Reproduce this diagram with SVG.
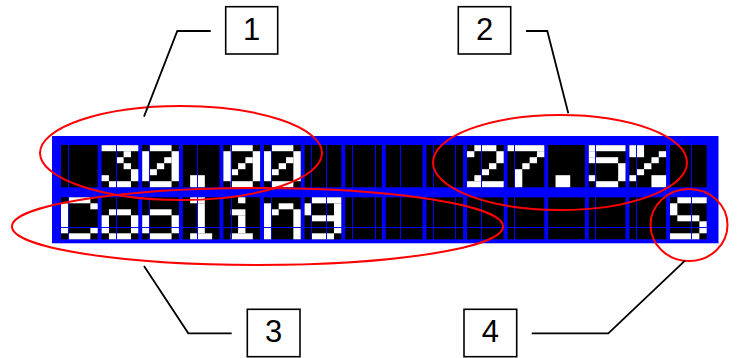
<svg xmlns="http://www.w3.org/2000/svg" xmlns:xlink="http://www.w3.org/1999/xlink" width="738" height="358" viewBox="0 0 738 358">
<style>
.lcd{fill:#0000ff}
.cell{fill:#000000}
.px{fill:#ffffff}
.grid{stroke:#0000ff;stroke-width:1;fill:none}
.ring{fill:none;stroke:#ff0000;stroke-width:2}
.box{fill:#ffffff;stroke:#000000;stroke-width:1.6}
.num{font-family:"Liberation Sans",Arial,sans-serif;font-size:31px;fill:#000000;text-anchor:middle}
.lead{fill:none;stroke:#000000;stroke-width:1.8}
</style>
<defs>
<g id="c3" class="px"><rect x="0" y="0" width="5" height="1"/><rect x="3" y="1" width="1" height="1"/><rect x="2" y="2" width="1" height="1"/><rect x="3" y="3" width="1" height="1"/><rect x="4" y="4" width="1" height="2"/><rect x="0" y="5" width="1" height="1"/><rect x="1" y="6" width="3" height="1"/></g>
<g id="c0" class="px"><rect x="1" y="0" width="3" height="1"/><rect x="0" y="1" width="1" height="5"/><rect x="4" y="1" width="1" height="5"/><rect x="3" y="2" width="1" height="1"/><rect x="2" y="3" width="1" height="1"/><rect x="1" y="4" width="1" height="1"/><rect x="1" y="6" width="3" height="1"/></g>
<g id="cdot" class="px"><rect x="1" y="5" width="2" height="2"/></g>
<g id="c2" class="px"><rect x="1" y="0" width="3" height="1"/><rect x="0" y="1" width="1" height="1"/><rect x="4" y="1" width="1" height="2"/><rect x="3" y="3" width="1" height="1"/><rect x="2" y="4" width="1" height="1"/><rect x="1" y="5" width="1" height="1"/><rect x="0" y="6" width="5" height="1"/></g>
<g id="c7" class="px"><rect x="0" y="0" width="5" height="1"/><rect x="4" y="1" width="1" height="1"/><rect x="3" y="2" width="1" height="1"/><rect x="2" y="3" width="1" height="1"/><rect x="1" y="4" width="1" height="3"/></g>
<g id="c5" class="px"><rect x="0" y="0" width="5" height="1"/><rect x="0" y="1" width="1" height="1"/><rect x="0" y="2" width="4" height="1"/><rect x="4" y="3" width="1" height="3"/><rect x="0" y="5" width="1" height="1"/><rect x="1" y="6" width="3" height="1"/></g>
<g id="cpct" class="px"><rect x="0" y="0" width="2" height="2"/><rect x="4" y="1" width="1" height="1"/><rect x="3" y="2" width="1" height="1"/><rect x="2" y="3" width="1" height="1"/><rect x="1" y="4" width="1" height="1"/><rect x="0" y="5" width="1" height="1"/><rect x="3" y="5" width="2" height="2"/></g>
<g id="cC" class="px"><rect x="1" y="0" width="3" height="1"/><rect x="0" y="1" width="1" height="5"/><rect x="4" y="1" width="1" height="1"/><rect x="4" y="5" width="1" height="1"/><rect x="1" y="6" width="3" height="1"/></g>
<g id="co" class="px"><rect x="1" y="2" width="3" height="1"/><rect x="0" y="3" width="1" height="3"/><rect x="4" y="3" width="1" height="3"/><rect x="1" y="6" width="3" height="1"/></g>
<g id="cl" class="px"><rect x="1" y="0" width="2" height="1"/><rect x="2" y="1" width="1" height="5"/><rect x="1" y="6" width="3" height="1"/></g>
<g id="ci" class="px"><rect x="2" y="0" width="1" height="1"/><rect x="1" y="2" width="2" height="1"/><rect x="2" y="3" width="1" height="3"/><rect x="1" y="6" width="3" height="1"/></g>
<g id="cn" class="px"><rect x="0" y="1" width="1" height="6"/><rect x="2" y="1" width="2" height="1"/><rect x="1" y="2" width="1" height="1"/><rect x="4" y="2" width="1" height="5"/></g>
<g id="cg" class="px"><rect x="1" y="0" width="4" height="1"/><rect x="0" y="1" width="1" height="2"/><rect x="4" y="1" width="1" height="5"/><rect x="1" y="3" width="3" height="1"/><rect x="1" y="6" width="3" height="1"/></g>
<g id="cS" class="px"><rect x="1" y="0" width="4" height="1"/><rect x="0" y="1" width="1" height="2"/><rect x="1" y="3" width="3" height="1"/><rect x="4" y="4" width="1" height="2"/><rect x="0" y="6" width="4" height="1"/></g>
</defs>

<g id="lcd">
<rect class="lcd" x="52" y="136" width="666.5" height="107.3"/>
<g id="cells-row1">
<rect class="cell" x="61" y="145" width="36.7" height="42.3"/>
<rect class="cell" x="101.6" y="145" width="36.7" height="42.3"/>
<rect class="cell" x="142.2" y="145" width="36.7" height="42.3"/>
<rect class="cell" x="182.8" y="145" width="36.7" height="42.3"/>
<rect class="cell" x="223.4" y="145" width="36.7" height="42.3"/>
<rect class="cell" x="264" y="145" width="36.7" height="42.3"/>
<rect class="cell" x="304.6" y="145" width="36.7" height="42.3"/>
<rect class="cell" x="345.2" y="145" width="36.7" height="42.3"/>
<rect class="cell" x="385.8" y="145" width="36.7" height="42.3"/>
<rect class="cell" x="426.4" y="145" width="36.7" height="42.3"/>
<rect class="cell" x="467" y="145" width="36.7" height="42.3"/>
<rect class="cell" x="507.6" y="145" width="36.7" height="42.3"/>
<rect class="cell" x="548.2" y="145" width="36.7" height="42.3"/>
<rect class="cell" x="588.8" y="145" width="36.7" height="42.3"/>
<rect class="cell" x="629.4" y="145" width="36.7" height="42.3"/>
<rect class="cell" x="670" y="145" width="36.7" height="42.3"/>
</g>
<g id="cells-row2">
<rect class="cell" x="61" y="197.3" width="36.7" height="42"/>
<rect class="cell" x="101.6" y="197.3" width="36.7" height="42"/>
<rect class="cell" x="142.2" y="197.3" width="36.7" height="42"/>
<rect class="cell" x="182.8" y="197.3" width="36.7" height="42"/>
<rect class="cell" x="223.4" y="197.3" width="36.7" height="42"/>
<rect class="cell" x="264" y="197.3" width="36.7" height="42"/>
<rect class="cell" x="304.6" y="197.3" width="36.7" height="42"/>
<rect class="cell" x="345.2" y="197.3" width="36.7" height="42"/>
<rect class="cell" x="385.8" y="197.3" width="36.7" height="42"/>
<rect class="cell" x="426.4" y="197.3" width="36.7" height="42"/>
<rect class="cell" x="467" y="197.3" width="36.7" height="42"/>
<rect class="cell" x="507.6" y="197.3" width="36.7" height="42"/>
<rect class="cell" x="548.2" y="197.3" width="36.7" height="42"/>
<rect class="cell" x="588.8" y="197.3" width="36.7" height="42"/>
<rect class="cell" x="629.4" y="197.3" width="36.7" height="42"/>
<rect class="cell" x="670" y="197.3" width="36.7" height="42"/>
</g>
<g id="text-row1" aria-label=" 30.00    27.5% ">
<use xlink:href="#c3" transform="translate(101.6,145.2) scale(7.34,6)"/>
<use xlink:href="#c0" transform="translate(142.2,145.2) scale(7.34,6)"/>
<use xlink:href="#cdot" transform="translate(182.8,145.2) scale(7.34,6)"/>
<use xlink:href="#c0" transform="translate(223.4,145.2) scale(7.34,6)"/>
<use xlink:href="#c0" transform="translate(264,145.2) scale(7.34,6)"/>
<use xlink:href="#c2" transform="translate(467,145.2) scale(7.34,6)"/>
<use xlink:href="#c7" transform="translate(507.6,145.2) scale(7.34,6)"/>
<use xlink:href="#cdot" transform="translate(548.2,145.2) scale(7.34,6)"/>
<use xlink:href="#c5" transform="translate(588.8,145.2) scale(7.34,6)"/>
<use xlink:href="#cpct" transform="translate(629.4,145.2) scale(7.34,6)"/>
</g>
<g id="text-row2" aria-label="Cooling        S">
<use xlink:href="#cC" transform="translate(61,197.3) scale(7.34,6)"/>
<use xlink:href="#co" transform="translate(101.6,197.3) scale(7.34,6)"/>
<use xlink:href="#co" transform="translate(142.2,197.3) scale(7.34,6)"/>
<use xlink:href="#cl" transform="translate(182.8,197.3) scale(7.34,6)"/>
<use xlink:href="#ci" transform="translate(223.4,197.3) scale(7.34,6)"/>
<use xlink:href="#cn" transform="translate(264,197.3) scale(7.34,6)"/>
<use xlink:href="#cg" transform="translate(304.6,197.3) scale(7.34,6)"/>
<use xlink:href="#cS" transform="translate(670,197.3) scale(7.34,6)"/>
</g>
<g id="grid-lines" class="grid">
<path d="M68.5 145V239.3M116.5 145V239.3M149.5 145V239.3M197.5 145V239.3M231.5 145V239.3M271.5 145V239.3M311.5 145V239.3M326.5 145V239.3M352.5 145V239.3M375.5 145V239.3M400.5 145V239.3M433.5 145V239.3M455.5 145V239.3M481.5 145V239.3M514.5 145V239.3M595.5 145V239.3M636.5 145V239.3M691.5 145V239.3"/>
<path d="M61 227.5H706.7"/>
</g>
</g>

<g id="highlights">
<ellipse id="ring1" class="ring" cx="181" cy="153" rx="141" ry="47"/>
<ellipse id="ring2" class="ring" cx="560" cy="162.5" rx="127" ry="47.5"/>
<ellipse id="ring3" class="ring" cx="257.5" cy="226.5" rx="245.5" ry="38.5"/>
<ellipse id="ring4" class="ring" cx="689" cy="225" rx="38.5" ry="36"/>
</g>

<g id="connectors">
<polyline class="lead" points="144,116.7 177.3,31 210.7,31"/>
<polyline class="lead" points="526,31 547.3,31 568.3,113.3"/>
<polyline class="lead" points="144,266 188.3,333.3 231.7,333.3"/>
<polyline class="lead" points="685,260.7 608.3,333.3 531.7,333.3"/>
</g>

<g id="label1"><rect class="box" x="225.7" y="6.7" width="52" height="47.3"/><text class="num" x="251.7" y="40">1</text></g>
<g id="label2"><rect class="box" x="458.3" y="6.7" width="52.4" height="47.3"/><text class="num" x="484.5" y="40">2</text></g>
<g id="label3"><rect class="box" x="247.3" y="309.3" width="52.7" height="47.4"/><text class="num" x="273.7" y="342">3</text></g>
<g id="label4"><rect class="box" x="464" y="309.3" width="52.7" height="47.4"/><text class="num" x="490.3" y="342">4</text></g>
</svg>
